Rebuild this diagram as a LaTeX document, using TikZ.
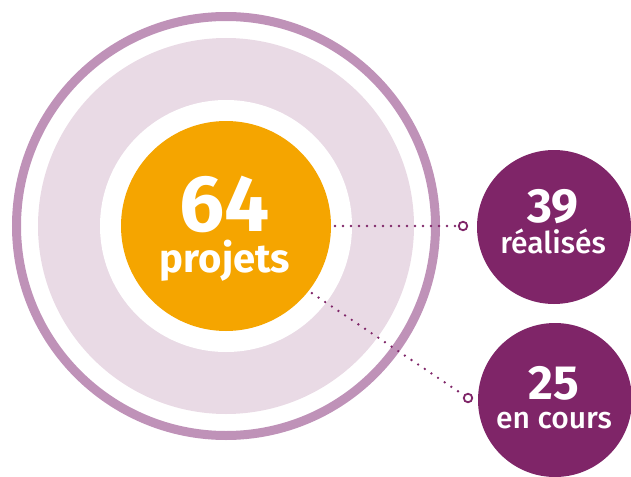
\documentclass[tikz,border=0pt]{standalone}
\usepackage{fontspec}
\setmainfont{Fira Sans}
\newfontfamily\medfont{Fira Sans Medium}
\usetikzlibrary{positioning}
\definecolor{ringlilac}{HTML}{BF92B8}
\definecolor{palelilac}{HTML}{E9DAE5}
\definecolor{projorange}{HTML}{F5A500}
\definecolor{plum}{HTML}{7F2568}
\newcommand{\bignum}[2]{{\normalfont\fontsize{#1}{#1}\selectfont\bfseries #2}}
\tikzset{
  figtext/.style={text=white,align=center,inner sep=0pt},
  bubble/.style={circle,fill=plum,minimum size=154pt,inner sep=0pt},
  pin/.style={circle,draw=plum,fill=white,line width=1.8pt,minimum size=8.5pt,inner sep=0pt},
  dotline/.style={plum,line width=2.6pt,line cap=round,dash pattern=on 0pt off 8pt}
}

\begin{document}
\begin{tikzpicture}[x=1pt,y=-1pt]
  \useasboundingbox (0,0) rectangle (631,476);
  % rings round the total
  \draw[ringlilac,line width=9pt] (226,226) circle (209.5pt);
  \fill[palelilac] (226,226) circle (188pt);
  \fill[white] (226,226) circle (126pt);
  \node[circle,fill=projorange,minimum size=210pt,inner sep=0pt,outer sep=4pt] (total) at (226,226) {};
  \node[figtext,font=\fontsize{40}{41}\selectfont\bfseries] (lbl64) at (225,229) {\bignum{80}{64}\\projets};
  % the two parts
  \node[bubble] (realises) at (554,227) {};
  \node[bubble] (encours) at (555,400) {};
  \node[figtext,font=\medfont\fontsize{30}{31}\selectfont] (lbl39) at (553,222) {\bignum{48}{39}\\réalisés};
  \node[figtext,font=\medfont\fontsize{30}{29}\selectfont] (lbl25) at (554,398) {\bignum{48}{25}\\en cours};
  % dotted leaders
  \node[pin] (pinA) at (463,226) {};
  \node[pin] (pinB) at (468,398) {};
  \draw[dotline] (total.east) -- (pinA);
  \draw[dotline] (total.-38) -- (pinB);
\end{tikzpicture}
\end{document}
